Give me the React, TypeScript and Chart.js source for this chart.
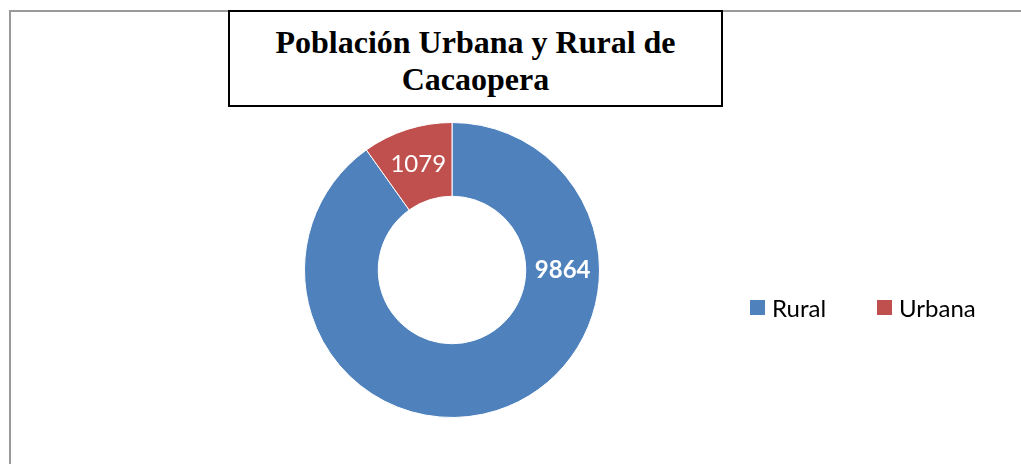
import React, { useEffect, useRef } from "react";
import { Chart, registerables } from "chart.js";

Chart.register(...registerables);

const categories = ["Rural", "Urbana"];
const values = [9864, 1079];
const colors = ["#4F81BD", "#C0504D"];
const labelBold = [true, false];
const titleLines = ["Población Urbana y Rural de", "Cacaopera"];

const labelPlugin = {
  id: "sliceLabels",
  afterDatasetsDraw(chart: any) {
    const ctx = chart.ctx;
    const meta = chart.getDatasetMeta(0);
    meta.data.forEach((arc: any, i: number) => {
      const p = arc.getProps(["x", "y", "startAngle", "endAngle", "innerRadius", "outerRadius"], true);
      const r = (p.innerRadius + p.outerRadius) / 2;
      let ang = (p.startAngle + p.endAngle) / 2;
      // Rural label sits at 3 o'clock, as in the original
      if (i === 0) ang = 0;
      const x = p.x + Math.cos(ang) * r;
      const y = p.y + Math.sin(ang) * r;
      ctx.save();
      ctx.fillStyle = "#ffffff";
      ctx.font = `${labelBold[i] ? "bold " : ""}24px Lato, "Open Sans", sans-serif`;
      ctx.textAlign = "center";
      ctx.textBaseline = "middle";
      ctx.fillText(String(values[i]), x, y);
      ctx.restore();
    });
  },
};

export default function App() {
  const ref = useRef<HTMLCanvasElement>(null);
  useEffect(() => {
    if (!ref.current) return;
    const chart = new Chart(ref.current, {
      type: "doughnut",
      data: {
        labels: categories,
        datasets: [
          {
            data: values,
            backgroundColor: colors,
            borderColor: "#ffffff",
            borderWidth: 1,
          },
        ],
      },
      options: {
        responsive: false,
        animation: false,
        cutout: "50%",
        layout: { padding: { left: 304, right: 421, top: 122, bottom: 46 } },
        plugins: {
          legend: { display: false },
          title: { display: false },
          tooltip: { enabled: false },
        },
      },
      plugins: [labelPlugin],
    });
    return () => chart.destroy();
  }, []);

  return (
    <div style={{ position: "absolute", left: 0, top: 0, width: 1021, height: 464, overflow: "hidden", background: "#fff" }}>
      <div
        style={{
          position: "absolute",
          left: 9,
          top: 10,
          width: 1100,
          height: 600,
          borderLeft: "2px solid #9a9a9a",
          borderTop: "2px solid #9a9a9a",
        }}
      />
      <canvas ref={ref} width={1021} height={464} style={{ position: "absolute", left: 0, top: 0 }} />
      <div
        style={{
          position: "absolute",
          left: 228,
          top: 10,
          width: 495,
          height: 97,
          boxSizing: "border-box",
          border: "2px solid #000",
          background: "#fff",
          fontFamily: "'Liberation Serif', 'Times New Roman', serif",
          fontWeight: "bold",
          fontSize: 32,
          lineHeight: "37px",
          textAlign: "center",
          paddingTop: 12,
          color: "#000",
        }}
      >
        {titleLines.map((t, i) => (
          <div key={i}>{t}</div>
        ))}
      </div>
      <div
        style={{
          position: "absolute",
          left: 750,
          top: 293,
          display: "flex",
          alignItems: "center",
          fontFamily: 'Lato, "Open Sans", sans-serif',
          fontSize: 24,
          color: "#000",
        }}
      >
        {categories.map((c, i) => (
          <div key={c} style={{ display: "flex", alignItems: "center", marginRight: i === 0 ? 51 : 0 }}>
            <span style={{ display: "inline-block", width: 15, height: 15, background: colors[i], marginRight: 7 }} />
            <span>{c}</span>
          </div>
        ))}
      </div>
    </div>
  );
}
